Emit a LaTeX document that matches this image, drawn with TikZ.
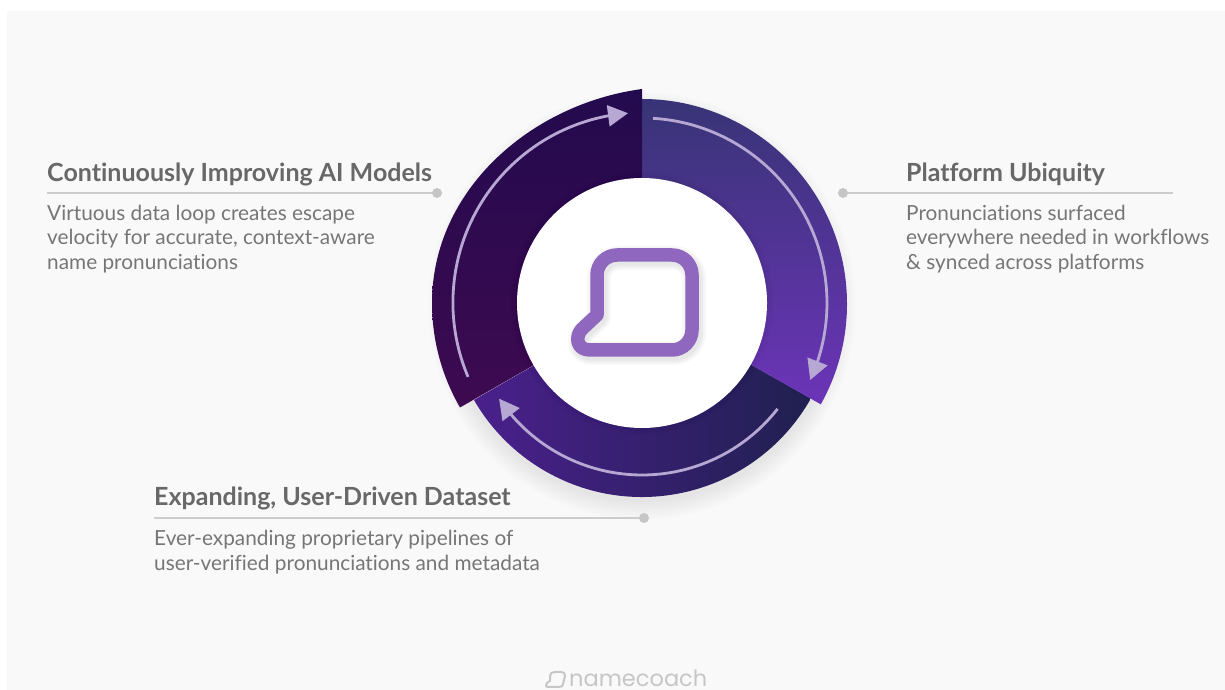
\documentclass[tikz,border=0pt]{standalone}
\usepackage{fontspec}
\setmainfont[Ligatures=NoCommon]{Lato}
\newfontfamily\logofont{Poppins}
\usetikzlibrary{arrows.meta,bending}
\definecolor{pagebg}{HTML}{F9F9F9}
\definecolor{headgray}{HTML}{686868}
\definecolor{bodygray}{HTML}{767676}
\definecolor{rulegray}{HTML}{CCCCCC}
\definecolor{dotgray}{HTML}{C6C6C6}
\definecolor{logogray}{HTML}{C6C6C6}
\definecolor{arrowlilac}{HTML}{B7A8D3}
\definecolor{markpurple}{HTML}{8F67BF}
\definecolor{botL}{HTML}{4A208C}
\definecolor{botR}{HTML}{202050}
\definecolor{rightT}{HTML}{383476}
\definecolor{rightB}{HTML}{6C34B8}
\definecolor{leftT}{HTML}{230A4E}
\definecolor{leftB}{HTML}{3E0A50}
\newcommand{\markpath}{(597,375) -- (597,415) arc[start angle=180,end angle=90,radius=20pt] -- (672,435)
  arc[start angle=90,end angle=0,radius=20pt] -- (692,360)
  arc[start angle=0,end angle=-90,radius=20pt] -- (590,340) .. controls (576,340) and (575,354) .. (582,361) -- cycle}
\tikzset{
  heading/.style={anchor=base west,inner sep=0pt,font=\fontsize{25}{30}\selectfont\bfseries,text=headgray},
  bodytext/.style={anchor=north west,inner sep=0pt,align=left,font=\fontsize{20.8}{24.6}\selectfont,text=bodygray},
  leader/.style={draw=rulegray,line width=2.4pt},
  leaderdot/.style={circle,fill=dotgray,inner sep=0pt,minimum size=10pt},
  cyclearrow/.style={draw=arrowlilac,line width=2.8pt,-{Triangle[length=20pt,width=21pt,flex]}},
  softshadow/.style={fill=black,fill opacity=.009,draw=none},
}
\begin{document}
\begin{tikzpicture}[x=1pt,y=1pt]
\useasboundingbox (0,0) rectangle (1225,690);
\fill[white] (0,0) rectangle (1225,690);
\fill[pagebg] (7,0) rectangle (1225,679);
\coordinate (c) at (642,387);
% soft shadow of the ring
\foreach \r in {196,198,200,202,204,206,208,210,212,214}{
  \fill[softshadow] (642,384) circle[radius=\r pt];
}
% bottom segment
\shade[left color=botL,right color=botR]
  (c) -- ++(-29.5:194) arc[start angle=-29.5,end angle=-150,radius=194pt] -- cycle;
% right segment
\shade[top color=rightT,bottom color=rightB]
  (c) -- ++(90:204) arc[start angle=90,end angle=-29.3,radius=205pt] -- cycle;
% left segment
\shade[top color=leftT,bottom color=leftB]
  (c) -- ++(90:214) .. controls (531,586) and (432,500) .. (432,387) arc[start angle=180,end angle=210,radius=209pt] -- cycle;
% centre disc
\foreach \r in {126,127.5,129,130.5,132}{
  \fill[softshadow] (c) circle[radius=\r pt];
}
\fill[white] (c) circle[radius=125pt];
% cycle arrows
\draw[cyclearrow] (c) ++(86.6:185) arc[start angle=86.6,end angle=-24.6,radius=185pt];
\draw[cyclearrow] (c) ++(-38:172) arc[start angle=-38,end angle=-146.2,radius=172pt];
\draw[cyclearrow] (c) ++(203:189) arc[start angle=203,end angle=94.5,radius=190pt];
% centre mark
\foreach \w in {24,21,18,15}{
  \draw[black,opacity=.025,line width=\w pt,line join=round,shift={(2,-3)}] \markpath;
}
\draw[markpurple,line width=13.5pt,line join=round] \markpath;
% left block
\node[heading] (hleft) at (47,508.5) {Continuously Improving AI Models};
\node[leaderdot] (dleft) at (437,497) {};
\coordinate (rleft) at (47,497);
\draw[leader] (rleft) -- (dleft);
\node[bodytext] (bleft) at (47,485.5) {Virtuous data loop creates escape\\velocity for accurate, context-aware\\name pronunciations};
% right block
\node[heading] (hright) at (906,508.5) {Platform Ubiquity};
\node[leaderdot] (dright) at (843,497) {};
\coordinate (rright) at (1173,497);
\draw[leader] (dright) -- (rright);
\node[bodytext] (bright) at (906,485.5) {Pronunciations surfaced\\everywhere needed in workflows\\\& synced across platforms};
% bottom block
\node[heading] (hbot) at (154,184) {Expanding, User-Driven Dataset};
\node[leaderdot] (dbot) at (644,172) {};
\coordinate (rbot) at (154,172);
\draw[leader] (rbot) -- (dbot);
\node[bodytext] (bbot) at (154,160) {Ever-expanding proprietary pipelines of\\user-verified pronunciations and metadata};
% footer logo
\node[anchor=base west,inner sep=0pt,text=logogray,font=\logofont\fontsize{22.5}{28}\selectfont] (logo) at (569,3) {namecoach};
\draw[logogray,line width=2pt,line join=round]
  (550,9) -- (550,14) .. controls (550,17) and (552,18) .. (555,18) -- (561,18)
  .. controls (564,18) and (565,17) .. (565,14) -- (563,6) .. controls (562.5,4) and (562,3) .. (559,3) -- (548,3) .. controls (545,3) and (546,6) .. (547,7) -- cycle;
\end{tikzpicture}
\end{document}
